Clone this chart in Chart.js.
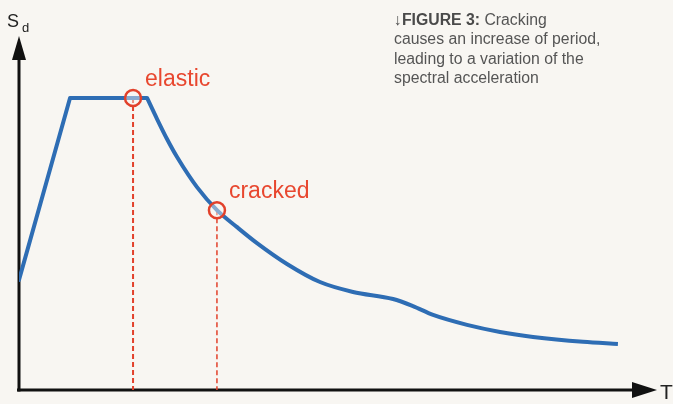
<!DOCTYPE html>
<html>
<head>
<meta charset="utf-8">
<script src="https://cdn.jsdelivr.net/npm/chart.js@4"></script>
<style>
  html, body { margin: 0; padding: 0; background: #f8f6f2; }
  #wrap { position: relative; width: 673px; height: 404px; }
  #caption {
    position: absolute; left: 394px; top: 10px; width: 270px;
    font-family: "Liberation Sans", Arial, sans-serif; font-size: 15.8px;
    line-height: 19.3px; color: #555;
  }
  #caption b { color: #4a4a4a; }
</style>
</head>
<body>
<div id="wrap">
  <canvas id="spectrum" width="673" height="404"></canvas>
  <div id="caption"><b>&#8595;FIGURE 3:</b> Cracking<br>causes an increase of period,<br>leading to a variation of the<br>spectral acceleration</div>
</div>
<script>
// 스펙트럼 곡선 (T, Sd) - 그림에서 읽은 값
const rampT = [0, 0.32, 0.803];
const rampSd = [0.311, 0.825, 0.825];

const decayT = [0.803, 0.865, 0.928, 0.991, 1.116, 1.241, 1.367, 1.492, 1.680, 1.887, 2.094, 2.345, 2.470, 2.596, 2.809, 3.016, 3.223, 3.536, 3.755];
const decaySd = [0.825, 0.766, 0.709, 0.658, 0.573, 0.508, 0.460, 0.415, 0.356, 0.305, 0.277, 0.257, 0.237, 0.212, 0.184, 0.164, 0.150, 0.136, 0.130];

// 표시점: 탄성 / 균열
const markLabels = ['elastic', 'cracked'];
const markT = [0.715, 1.241];
const markSd = [0.825, 0.508];

// 축 범위
const T_MAX = 4;
const SD_MAX = 1;

const BLUE = '#2e6db4';
const RED = '#e2412b';

const toPoints = (xs, ys) => xs.map((x, i) => ({ x: x, y: ys[i] }));

// 점선 (표시점에서 T축까지)
const dashSets = markT.map((t, i) => ({
    data: [{ x: t, y: markSd[i] }, { x: t, y: 0 }],
    borderColor: RED,
    borderWidth: i === 0 ? 2 : 1.5,
    borderDash: [5, 3],
    pointRadius: 0,
    order: 3
}));

// 축 + 화살표 + 글자
const axesPlugin = {
    id: 'axes',
    beforeDatasetsDraw(chart) {
        const ctx = chart.ctx;
        const a = chart.chartArea;
        ctx.save();
        ctx.strokeStyle = '#111';
        ctx.fillStyle = '#111';
        ctx.lineWidth = 3;
        // y축
        ctx.beginPath();
        ctx.moveTo(a.left, a.bottom + 1.5);
        ctx.lineTo(a.left, a.top + 20);
        ctx.stroke();
        ctx.beginPath();
        ctx.moveTo(a.left, a.top);
        ctx.lineTo(a.left - 7, a.top + 24);
        ctx.lineTo(a.left + 7, a.top + 24);
        ctx.closePath();
        ctx.fill();
        // x축
        ctx.beginPath();
        ctx.moveTo(a.left - 2, a.bottom);
        ctx.lineTo(a.right - 20, a.bottom);
        ctx.stroke();
        ctx.beginPath();
        ctx.moveTo(a.right, a.bottom);
        ctx.lineTo(a.right - 25, a.bottom - 8);
        ctx.lineTo(a.right - 25, a.bottom + 8);
        ctx.closePath();
        ctx.fill();
        // 축 이름
        ctx.fillStyle = '#222';
        ctx.textBaseline = 'alphabetic';
        ctx.font = '18px "Liberation Sans", Arial, sans-serif';
        ctx.fillText('S', a.left - 12, a.top - 9);
        ctx.font = '13px "Liberation Sans", Arial, sans-serif';
        ctx.fillText('d', a.left + 3, a.top - 4);
        ctx.font = '21px "Liberation Sans", Arial, sans-serif';
        ctx.fillText('T', a.right + 3, a.bottom + 9);
        ctx.restore();
    },
    afterDatasetsDraw(chart) {
        const ctx = chart.ctx;
        const meta = chart.getDatasetMeta(chart.data.datasets.length - 1);
        ctx.save();
        ctx.fillStyle = '#e8472f';
        ctx.font = '23px "Liberation Sans", Arial, sans-serif';
        ctx.textBaseline = 'alphabetic';
        meta.data.forEach((pt, i) => {
            ctx.fillText(markLabels[i], pt.x + 12, pt.y - 12);
        });
        ctx.restore();
    }
};

const chart = new Chart(document.getElementById('spectrum'), {
    type: 'line',
    data: {
        datasets: [
            ...dashSets,
            {
                data: toPoints(rampT, rampSd),
                borderColor: BLUE,
                borderWidth: 4,
                borderJoinStyle: 'round',
                borderCapStyle: 'round',
                tension: 0,
                pointRadius: 0,
                order: 2
            },
            {
                data: toPoints(decayT, decaySd),
                borderColor: BLUE,
                borderWidth: 4,
                borderCapStyle: 'butt',
                cubicInterpolationMode: 'monotone',
                pointRadius: 0,
                order: 2
            },
            {
                data: toPoints(markT, markSd),
                showLine: false,
                pointRadius: 8,
                pointBorderWidth: 2.5,
                pointBorderColor: RED,
                pointBackgroundColor: 'rgba(248,246,242,0.45)',
                order: 1
            }
        ]
    },
    options: {
        responsive: false,
        animation: false,
        layout: { padding: { left: 19, right: 16, top: 36, bottom: 14 } },
        plugins: { legend: { display: false }, tooltip: { enabled: false } },
        scales: {
            x: { type: 'linear', min: 0, max: T_MAX, display: false },
            y: { type: 'linear', min: 0, max: SD_MAX, display: false }
        }
    },
    plugins: [axesPlugin]
});
</script>
</body>
</html>
